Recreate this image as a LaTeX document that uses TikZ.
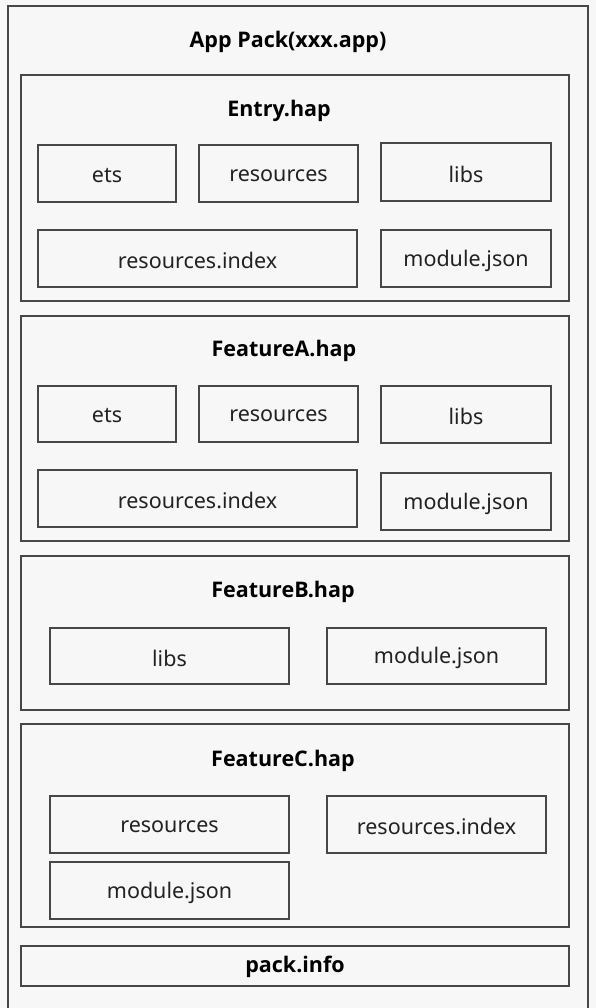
\documentclass[tikz,border=0pt]{standalone}
\usepackage{fontspec}
\setmainfont{Noto Sans}
\newfontfamily\tfont{Open Sans}
\definecolor{bg}{HTML}{F7F7F7}
\definecolor{ln}{HTML}{474747}
\definecolor{tx}{HTML}{222222}
\tikzset{
  frame/.style={draw=ln, line width=1.4pt, rectangle, anchor=north west, inner sep=0pt, outer sep=0pt},
  ttl/.style={font=\tfont\bfseries\fontsize{21.5}{24}\selectfont, text=black, inner sep=0pt},
}
\newcommand{\bx}[6]{% name, style, x1, y1, x2, y2
  \pgfmathsetmacro{\bw}{#5-#3}\pgfmathsetmacro{\bh}{#6-#4}
  \node[#2, minimum width=\bw pt, minimum height=\bh pt] (#1) at (#3,#4) {};}
\newcommand{\itm}[6]{% name, x1, y1, x2, y2, text
  \pgfmathsetmacro{\bw}{#4-#2}\pgfmathsetmacro{\bh}{#5-#3}
  \node[frame, minimum width=\bw pt, minimum height=\bh pt] (#1) at (#2,#3) {};
  \node[text=tx, font=\fontsize{21.5}{24}\selectfont, inner sep=0pt] at ([yshift=-2pt]#1.center) {#6};}
\begin{document}
\begin{tikzpicture}[x=1pt,y=-1pt]
\fill[bg] (0,0) rectangle (596,1008);
\useasboundingbox (0,0) rectangle (596,1008);
% outer frame
\draw[draw=ln, line width=1.4pt] (8,1012) -- (8,6) -- (588,6) -- (588,1012);
\node[ttl] (app) at (288,42) {App Pack(xxx.app)};
% Entry
\bx{entry}{frame}{21}{75}{569}{301}
\node[ttl] (entryt) at (279,111) {Entry.hap};
\itm{e1}{38}{145}{176}{202}{ets}
\itm{e2}{199}{145}{358}{202}{resources}
\itm{e3}{381}{143}{551}{201}{libs}
\itm{e4}{38}{230}{357}{287}{resources.index}
\itm{e5}{381}{230}{551}{287}{module.json}
% FeatureA
\bx{fa}{frame}{21}{316}{569}{541}
\node[ttl] (fat) at (284,351) {FeatureA.hap};
\itm{a1}{38}{386}{176}{442}{ets}
\itm{a2}{199}{386}{358}{442}{resources}
\itm{a3}{381}{386}{551}{443}{libs}
\itm{a4}{38}{470}{357}{527}{resources.index}
\itm{a5}{381}{473}{551}{530}{module.json}
% FeatureB
\bx{fb}{frame}{21}{556}{569}{710}
\node[ttl] (fbt) at (283,592) {FeatureB.hap};
\itm{b1}{50}{628}{289}{684}{libs}
\itm{b2}{327}{628}{546}{684}{module.json}
% FeatureC
\bx{fc}{frame}{21}{724}{569}{927}
\node[ttl] (fct) at (283,761) {FeatureC.hap};
\itm{c1}{50}{796}{289}{853}{resources}
\itm{c2}{327}{796}{546}{853}{resources.index}
\itm{c3}{50}{862}{289}{919}{module.json}
% pack.info
\node[frame, minimum width=548pt, minimum height=40pt] (pack) at (21,946) {};
\node[ttl] (packt) at ([yshift=-1pt]pack.center) {pack.info};
\end{tikzpicture}
\end{document}
